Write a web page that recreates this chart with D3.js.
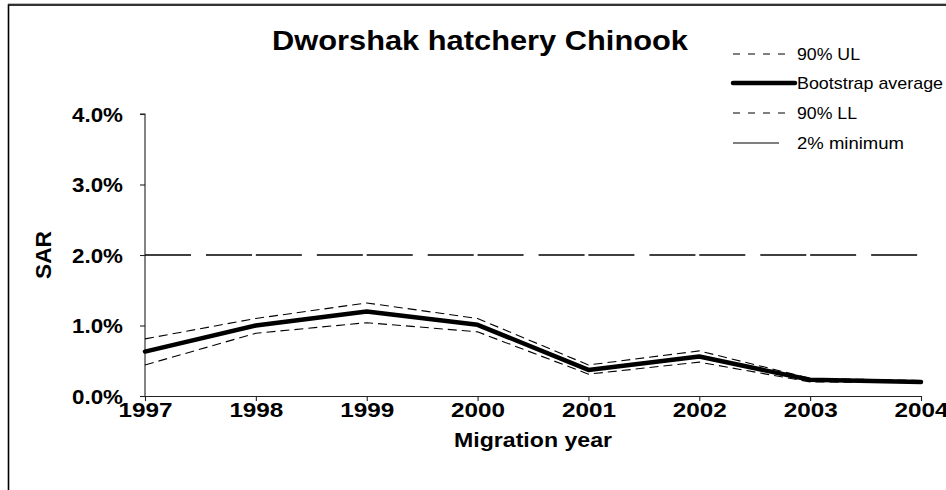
<!DOCTYPE html>
<html>
<head>
<meta charset="utf-8">
<script src="https://cdn.jsdelivr.net/npm/d3@7"></script>
<style>
  html, body { margin: 0; padding: 0; background: #fff; }
  svg { display: block; }
  text { font-family: "Liberation Sans", Arial, sans-serif; fill: #000; }
</style>
</head>
<body>
<svg id="chart" width="946" height="490"></svg>
<script>
// ---- data ----
const years = ["1997", "1998", "1999", "2000", "2001", "2002", "2003", "2004"];
const upperLimit = [0.81, 1.10, 1.32, 1.10, 0.44, 0.64, 0.25, 0.22];       // 90% UL (%)
const bootstrapAverage = [0.63, 1.00, 1.20, 1.01, 0.37, 0.56, 0.23, 0.20]; // (%)
const lowerLimit = [0.44, 0.89, 1.04, 0.91, 0.31, 0.48, 0.20, 0.19];       // 90% LL (%)
const minimum = [2.0, 2.0, 2.0, 2.0, 2.0, 2.0, 2.0, 2.0];                  // 2% minimum
const yTicks = [0, 1, 2, 3, 4];
const titleText = "Dworshak hatchery Chinook";
const xTitle = "Migration year";
const yTitle = "SAR";
const legendLabels = ["90% UL", "Bootstrap average", "90% LL", "2% minimum"];

// ---- layout ----
const svg = d3.select("#chart");
const x = d3.scalePoint().domain(years).range([145, 921]);
const y = d3.scaleLinear().domain([0, 4]).range([396, 114]);

// outer frame
svg.append("line").attr("x1", 8).attr("x2", 946).attr("y1", 3.5).attr("y2", 3.5)
  .attr("stroke", "#bbb").attr("stroke-width", 1);
svg.append("rect").attr("x", 8.5).attr("y", 5).attr("width", 1000).attr("height", 1000)
  .attr("fill", "none").attr("stroke", "#000").attr("stroke-width", 1.6);

function fitText(sel, len) {
  return sel.attr("textLength", len).attr("lengthAdjust", "spacingAndGlyphs");
}

// title
fitText(svg.append("text").attr("x", 480).attr("y", 50).attr("text-anchor", "middle")
  .attr("font-size", 27).attr("font-weight", "bold").text(titleText), 416);

// y axis
const yAxis = d3.axisLeft(y).tickValues(yTicks).tickSize(5).tickFormat(d => d3.format(".1f")(d) + "%");
const gy = svg.append("g").attr("transform", "translate(145,0)").call(yAxis);
gy.select(".domain").attr("stroke", "#222").attr("stroke-width", 1.1).attr("d", `M-5,${y(4)}H0V${y(0)}`);
gy.selectAll(".tick line").attr("stroke", "#222").attr("stroke-width", 1.1);
gy.selectAll(".tick text").attr("x", -22).attr("dy", "0.36em")
  .attr("font-size", 20).attr("font-weight", "bold")
  .attr("font-family", "Liberation Sans, Arial, sans-serif")
  .attr("textLength", 51).attr("lengthAdjust", "spacingAndGlyphs");

// x axis
const xAxis = d3.axisBottom(x).tickSize(5).tickSizeOuter(0);
const gx = svg.append("g").attr("transform", `translate(0,${y(0)})`).call(xAxis);
gx.select(".domain").attr("stroke", "#222").attr("stroke-width", 1.1);
gx.selectAll(".tick line").attr("stroke", "#222").attr("stroke-width", 1.1);
gx.selectAll(".tick text").attr("y", 0).attr("dy", 21)
  .attr("font-size", 21).attr("font-weight", "bold")
  .attr("font-family", "Liberation Sans, Arial, sans-serif")
  .attr("textLength", 54).attr("lengthAdjust", "spacingAndGlyphs");

// axis titles
fitText(svg.append("text").attr("x", 533).attr("y", 447).attr("text-anchor", "middle")
  .attr("font-size", 21).attr("font-weight", "bold").text(xTitle), 158);
fitText(svg.append("text").attr("transform", "translate(51,255) rotate(-90)").attr("text-anchor", "middle")
  .attr("font-size", 22).attr("font-weight", "bold").text(yTitle), 48);

// ---- series ----
const line = d3.line().x((d, i) => x(years[i])).y(d => y(d));

// 2% minimum: long-dash, pattern restarts in each year interval
for (let i = 0; i < years.length - 1; i++) {
  svg.append("path").datum([minimum[i], minimum[i + 1]])
    .attr("d", d3.line().x((d, j) => x(years[i + j])).y(d => y(d)))
    .attr("fill", "none").attr("stroke", "#000").attr("stroke-width", 1.3)
    .attr("stroke-dasharray", "46,15,46,6");
}

svg.append("path").datum(upperLimit).attr("d", line)
  .attr("fill", "none").attr("stroke", "#000").attr("stroke-width", 1.1)
  .attr("stroke-dasharray", "9,5");
svg.append("path").datum(lowerLimit).attr("d", line)
  .attr("fill", "none").attr("stroke", "#000").attr("stroke-width", 1.1)
  .attr("stroke-dasharray", "9,5");
svg.append("path").datum(bootstrapAverage).attr("d", line)
  .attr("fill", "none").attr("stroke", "#000").attr("stroke-width", 4.5)
  .attr("stroke-linejoin", "round").attr("stroke-linecap", "round");

// ---- legend ----
const legendY = [54, 83, 113, 143];
const legendStyles = [
  { w: 1.1, dash: "7,8", x2: 787, cap: "butt" },
  { w: 4.5, dash: null, x2: 795, cap: "round" },
  { w: 1.1, dash: "7,8", x2: 787, cap: "butt" },
  { w: 1.1, dash: null, x2: 779, cap: "butt" }
];
const legendLens = [63, 146, 60, 107];
legendLabels.forEach((lab, i) => {
  const s = legendStyles[i];
  svg.append("line").attr("x1", 733).attr("x2", s.x2).attr("y1", legendY[i]).attr("y2", legendY[i])
    .attr("stroke", "#000").attr("stroke-width", s.w)
    .attr("stroke-dasharray", s.dash).attr("stroke-linecap", s.cap);
  fitText(svg.append("text").attr("x", 797).attr("y", legendY[i] + 6)
    .attr("font-size", 17).text(lab), legendLens[i]);
});
</script>
</body>
</html>
